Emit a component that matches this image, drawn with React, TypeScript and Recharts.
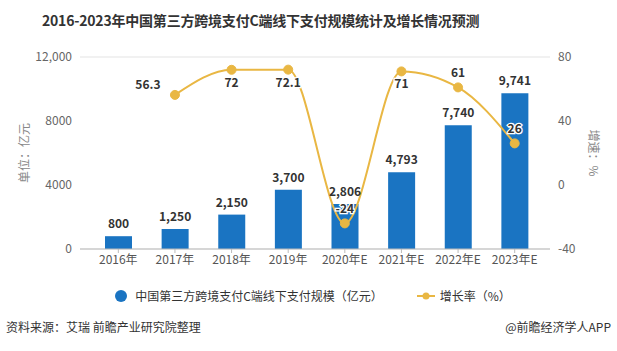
import {
  Bar,
  CartesianGrid,
  ComposedChart,
  LabelList,
  Line,
  XAxis,
  YAxis,
} from "recharts";

const YEARS = ["2016年", "2017年", "2018年", "2019年", "2020年E", "2021年E", "2022年E", "2023年E"];
const SCALE = [800, 1250, 2150, 3700, 2806, 4793, 7740, 9741];
const RATE: (number | null)[] = [null, 56.3, 72, 72.1, -24, 71, 61, 26];
const LEFT_TICKS = [0, 4000, 8000, 12000];
const RIGHT_TICKS = [-40, 0, 40, 80];

// where each growth label sits relative to its point
const RATE_LABEL_POS = ["", "left", "below", "below", "above", "below", "above", "above"];

const BAR_NAME = "中国第三方跨境支付C端线下支付规模（亿元）";
const LINE_NAME = "增长率（%）";

const BLUE = "#1a74c2";
const GOLD = "#e9b743";
const FONT = '"Noto Sans CJK SC", "Noto Sans", sans-serif';

const data = YEARS.map((year, i) => ({ year, scale: SCALE[i], rate: RATE[i] }));

const fmtLeft = (v: number) => (v >= 10000 ? v.toLocaleString("en-US") : String(v));

function RateLabel(props: any) {
  const { x, y, value, index } = props;
  if (value == null) return null;
  const pos = RATE_LABEL_POS[index];
  let dx = 0;
  let dy = -10;
  if (pos === "below") dy = 17;
  if (pos === "left") {
    dx = -27;
    dy = -6;
  }
  return (
    <text
      x={x + dx}
      y={y + dy}
      textAnchor="middle"
      fontSize={12}
      fontWeight="bold"
      fill="#333"
      stroke="#fff"
      strokeWidth={2.5}
      paintOrder="stroke"
      fontFamily={FONT}
    >
      {value}
    </text>
  );
}

function LegendBox() {
  return (
    <div
      style={{
        position: "absolute",
        left: 0,
        top: 287,
        width: 617,
        display: "flex",
        justifyContent: "center",
        alignItems: "center",
        fontSize: 12,
        color: "#333",
        paddingLeft: 4,
      }}
    >
      <span style={{ display: "inline-flex", alignItems: "center", marginRight: 34 }}>
        <svg width={14} height={14} style={{ marginRight: 7 }}>
          <circle cx={7} cy={7} r={6} fill={BLUE} />
        </svg>
        {BAR_NAME}
      </span>
      <span style={{ display: "inline-flex", alignItems: "center" }}>
        <svg width={18} height={12} style={{ marginRight: 5 }}>
          <line x1={0} y1={6} x2={18} y2={6} stroke={GOLD} strokeWidth={2} />
          <circle cx={9} cy={6} r={3.5} fill={GOLD} />
        </svg>
        {LINE_NAME}
      </span>
    </div>
  );
}

export default function App() {
  return (
    <div
      style={{
        position: "absolute",
        left: 0,
        top: 0,
        width: 617,
        height: 351,
        background: "#fff",
        fontFamily: FONT,
      }}
    >
      <div
        style={{
          position: "absolute",
          left: 42,
          top: 10,
          fontSize: 14,
          fontWeight: "bold",
          color: "#333",
          letterSpacing: -0.2,
          whiteSpace: "nowrap",
        }}
      >
        2016-2023年中国第三方跨境支付C端线下支付规模统计及增长情况预测
      </div>
      <ComposedChart
        width={617}
        height={351}
        data={data}
        margin={{ top: 57, right: 0, left: 0, bottom: 72 }}
      >
        <CartesianGrid stroke="#e3e3e3" vertical={false} />
        <XAxis
          dataKey="year"
          padding={{ left: 10, right: 7 }}
          tick={{ fill: "#555", fontSize: 12, fontFamily: FONT }}
          axisLine={{ stroke: "#bbb" }}
          tickLine={{ stroke: "#bbb" }}
          tickSize={4}
          interval={0}
          height={30}
        />
        <YAxis
          yAxisId="left"
          width={80}
          domain={[0, 12000]}
          ticks={LEFT_TICKS}
          tickFormatter={fmtLeft}
          tick={{ fill: "#666", fontSize: 12, fontFamily: FONT }}
          axisLine={false}
          tickLine={false}
          label={{
            value: "单位：亿元",
            angle: -90,
            position: "center",
            dx: -15,
            fill: "#888",
            fontSize: 12,
            fontFamily: FONT,
          }}
        />
        <YAxis
          yAxisId="right"
          orientation="right"
          width={67}
          domain={[-40, 80]}
          ticks={RIGHT_TICKS}
          tick={{ fill: "#666", fontSize: 12, fontFamily: FONT }}
          axisLine={false}
          tickLine={false}
          label={{
            value: "增速：%",
            angle: 90,
            position: "center",
            dx: 10,
            fill: "#888",
            fontSize: 12,
            fontFamily: FONT,
          }}
        />
        <Bar
          yAxisId="left"
          dataKey="scale"
          name={BAR_NAME}
          fill={BLUE}
          barSize={27}
          isAnimationActive={false}
        >
          <LabelList
            dataKey="scale"
            position="top"
            offset={8}
            formatter={(v: any) => Number(v).toLocaleString("en-US")}
            style={{ fill: "#333", fontSize: 12, fontWeight: "bold", fontFamily: FONT }}
          />
        </Bar>
        <Line
          yAxisId="right"
          type="monotone"
          dataKey="rate"
          name={LINE_NAME}
          stroke={GOLD}
          strokeWidth={2}
          dot={{ r: 4.5, fill: GOLD, stroke: GOLD, strokeWidth: 1 }}
          isAnimationActive={false}
        >
          <LabelList dataKey="rate" content={<RateLabel />} />
        </Line>
      </ComposedChart>
      <LegendBox />
      <div
        style={{
          position: "absolute",
          left: 6,
          top: 318,
          fontSize: 12,
          color: "#333",
        }}
      >
        资料来源：艾瑞 前瞻产业研究院整理
      </div>
      <div
        style={{
          position: "absolute",
          right: 6,
          top: 318,
          fontSize: 12,
          color: "#333",
        }}
      >
        @前瞻经济学人APP
      </div>
    </div>
  );
}
